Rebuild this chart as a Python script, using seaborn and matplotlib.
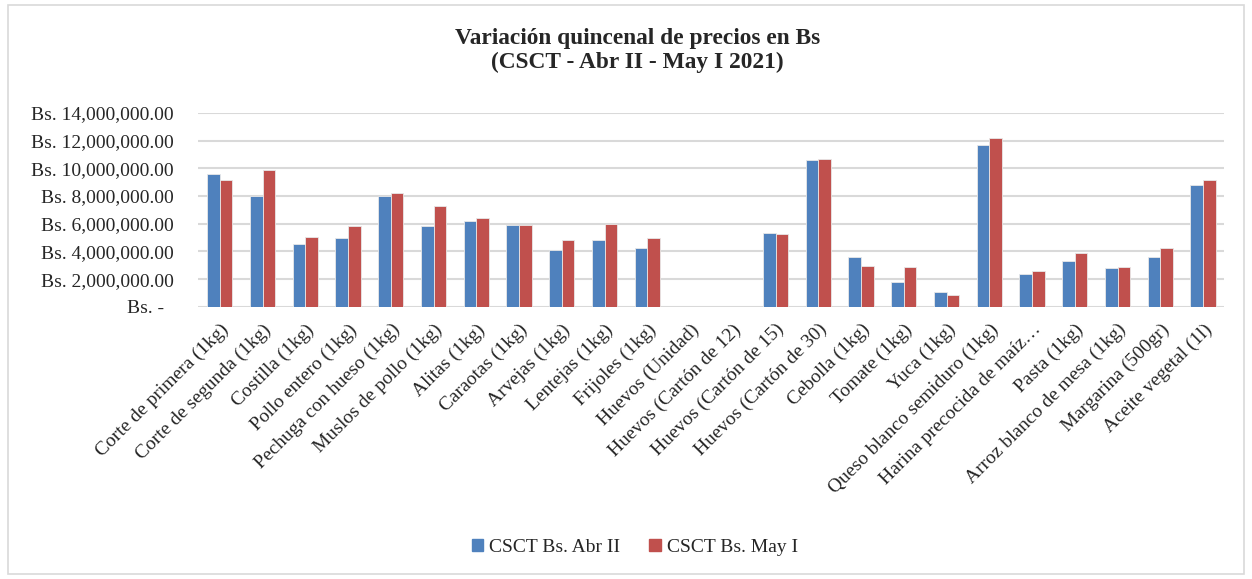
import pandas as pd
import seaborn as sns
import matplotlib.pyplot as plt
from matplotlib.patches import Rectangle
from matplotlib.ticker import FuncFormatter

# Products (x axis)
productos = [
    "Corte de primera (1kg)", "Corte de segunda (1kg)", "Costilla (1kg)",
    "Pollo entero (1kg)", "Pechuga con hueso (1kg)", "Muslos de pollo (1kg)",
    "Alitas (1kg)", "Caraotas (1kg)", "Arvejas (1kg)", "Lentejas (1kg)",
    "Frijoles (1kg)", "Huevos (Unidad)", "Huevos (Cartón de 12)",
    "Huevos (Cartón de 15)", "Huevos (Cartón de 30)", "Cebolla (1kg)",
    "Tomate (1kg)", "Yuca (1kg)", "Queso blanco semiduro (1kg)",
    "Harina precocida de maíz…", "Pasta (1kg)", "Arroz blanco de mesa (1kg)",
    "Margarina (500gr)", "Aceite vegetal (1l)",
]

# Prices in Bs
abr_ii = [9570000, 7980000, 4510000, 4990000, 7980000, 5810000, 6170000,
          5880000, 4120000, 4820000, 4220000, 0, 0, 5310000, 10630000,
          3590000, 1810000, 1080000, 11710000, 2390000, 3330000, 2780000,
          3590000, 8780000]
may_i = [9140000, 9910000, 5060000, 5810000, 8200000, 7260000, 6390000,
         5880000, 4800000, 5980000, 4990000, 0, 0, 5260000, 10700000,
         2920000, 2850000, 850000, 12170000, 2580000, 3900000, 2850000,
         4220000, 9140000]

series = ["CSCT Bs. Abr II", "CSCT Bs. May I"]
colores = ["#4F81BD", "#C0504D"]

df = pd.DataFrame({
    "producto": productos * 2,
    "precio": abr_ii + may_i,
    "serie": [series[0]] * len(productos) + [series[1]] * len(productos),
})

sns.set_style("white")
plt.rcParams['font.family'] = ['Liberation Serif', 'DejaVu Serif']

fig = plt.figure(figsize=(12.52, 5.79), dpi=100)
ax = fig.add_axes([0.1585, 0.470, 0.8195, 0.335])

sns.barplot(data=df, x="producto", y="precio", hue="serie",
            palette=colores, width=0.59, gap=0, ax=ax,
            edgecolor="#E8E8E8", linewidth=0.6, saturation=1)

ax.set_ylim(0, 14000000)
ax.set_yticks(range(0, 14000001, 2000000))
ax.yaxis.set_major_formatter(FuncFormatter(
    lambda v, p: "Bs. -  " if v == 0 else f"Bs. {v:,.2f}"))
ax.grid(axis="y", color="#D9D9D9", linewidth=1.5)
ax.set_axisbelow(True)
sns.despine(ax=ax, left=True, bottom=True, top=True, right=True)
ax.set_xlim(-0.5, len(productos) - 0.5)

ax.tick_params(axis="y", labelsize=14, pad=18, length=0)
ax.tick_params(axis="x", labelsize=14, pad=10, length=0)
plt.setp(ax.get_xticklabels(), rotation=45, ha="right", rotation_mode="anchor")
ax.set_xlabel("")
ax.set_ylabel("")

fig.suptitle("Variación quincenal de precios en Bs\n(CSCT - Abr II - May I 2021)",
             fontsize=16.8, fontweight="bold", x=0.509, y=0.913, va="center",
             linespacing=1.2)

ax.legend_.remove()
handles = [Rectangle((0, 0), 1, 1, color=c) for c in colores]
fig.legend(handles, series, loc="center", bbox_to_anchor=(0.507, 0.055),
           ncol=2, frameon=False, fontsize=14, handlelength=0.6,
           handleheight=0.6, handletextpad=0.3, columnspacing=1.5)

# outer chart border
fig.patches.append(Rectangle((0.006, 0.008), 0.988, 0.984, transform=fig.transFigure,
                             fill=False, edgecolor="#D9D9D9", linewidth=1.2))

fig.savefig("out.png", dpi=100)
